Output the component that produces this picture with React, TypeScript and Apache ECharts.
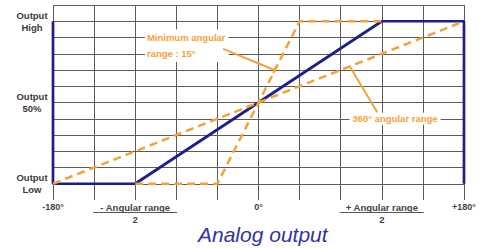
import React, { useEffect, useRef } from "react";
import * as echarts from "echarts";

// Axis definitions (degrees / output percent)
const xTicks = [-180, 0, 180];
const xTickLabels = ["-180°", "0°", "+180°"];
const yLevels = [0, 50, 100];
const yLevelLabels = ["Output\nLow", "Output\n50%", "Output\nHigh"];

// Series data: [angle, output %]
const analogOutput: [number, number][] = [
  [-180, 100],
  [-180, 0],
  [-108, 0],
  [108, 100],
  [180, 100],
  [180, 0],
];
const fullRange360: [number, number][] = [
  [-180, 0],
  [180, 100],
];
const minRange15: [number, number][] = [
  [-108, 0],
  [-36, 0],
  [36, 100],
  [108, 100],
];

// Annotation anchors (data coords)
const halfRangeTicks = [-108, 108];
const halfRangeLabels = ["- Angular range", "+ Angular range"];

const ORANGE = "#f4a236";
const NAVY = "#1d1d8c";
const GRID = "#5c5c5c";
const FONT = "Liberation Sans";

export default function App() {
  const ref = useRef<HTMLDivElement>(null);

  useEffect(() => {
    if (!ref.current) return;
    const chart = echarts.init(ref.current, undefined, { renderer: "svg" });
    chart.setOption({
      animation: false,
      title: {
        text: "Analog output",
        left: 198,
        top: 224,
        padding: 0,
        textStyle: {
          fontFamily: FONT,
          fontStyle: "italic",
          fontWeight: "normal",
          fontSize: 21,
          color: "#3333a6",
        },
      },
      grid: { left: 53, right: 20, top: 5, bottom: 48, containLabel: false },
      xAxis: {
        type: "value",
        min: -180,
        max: 180,
        interval: 36,
        axisLine: { show: false, onZero: false },
        axisTick: { show: false },
        splitLine: { show: true, lineStyle: { color: GRID, width: 1 } },
        axisLabel: {
          margin: 2,
          fontFamily: FONT,
          fontWeight: "bold",
          fontSize: 9,
          color: "#444",
          showMinLabel: true,
          showMaxLabel: true,
          formatter: (v: number) => {
            const i = xTicks.indexOf(v);
            return i >= 0 ? xTickLabels[i] : "";
          },
        },
      },
      yAxis: {
        type: "value",
        min: -10,
        max: 110,
        interval: 10,
        axisLine: { show: false },
        axisTick: { show: false },
        splitLine: {
          show: true,
          showMinLine: false,
          lineStyle: { color: GRID, width: 1 },
        },
        axisLabel: {
          margin: 21,
          align: "center",
          fontFamily: FONT,
          fontWeight: "bold",
          fontSize: 9.5,
          lineHeight: 12,
          color: "#3a3a3a",
          formatter: (v: number) => {
            const i = yLevels.indexOf(v);
            return i >= 0 ? yLevelLabels[i] : "";
          },
        },
      },
      series: [
        {
          type: "line",
          data: analogOutput,
          showSymbol: false,
          lineStyle: { color: NAVY, width: 2.7 },
          z: 3,
        },
        {
          type: "line",
          data: fullRange360,
          showSymbol: false,
          lineStyle: { color: ORANGE, width: 2.5, type: [8, 5] },
          z: 4,
        },
        {
          type: "line",
          data: minRange15,
          showSymbol: false,
          lineStyle: { color: ORANGE, width: 2.5, type: [8, 5] },
          z: 4,
        },
      ],
    });

    const px = (x: number, y: number) =>
      chart.convertToPixel({ gridIndex: 0 }, [x, y]) as number[];

    const graphics: any[] = [];
    const bottom = px(0, -10)[1];

    // Half-range labels under the axis
    halfRangeTicks.forEach((t, i) => {
      const cx = px(t, 0)[0];
      graphics.push({
        type: "text",
        x: cx,
        y: bottom + 7,
        style: {
          text: halfRangeLabels[i],
          align: "center",
          verticalAlign: "middle",
          fontFamily: FONT,
          fontWeight: "bold",
          fontSize: 9.5,
          fill: "#444",
        },
      });
      graphics.push({
        type: "line",
        shape: { x1: cx - 42, y1: bottom + 12.5, x2: cx + 42, y2: bottom + 12.5 },
        style: { stroke: "#555", lineWidth: 1 },
      });
      graphics.push({
        type: "text",
        x: cx,
        y: bottom + 19,
        style: {
          text: "2",
          align: "center",
          verticalAlign: "middle",
          fontFamily: FONT,
          fontWeight: "bold",
          fontSize: 9.5,
          fill: "#444",
        },
      });
    });

    // Minimum angular range annotation
    const rowH = px(0, 80)[1] - px(0, 90)[1];
    const minTxt = px(-99.5, 85);
    graphics.push({
      type: "text",
      x: minTxt[0],
      y: minTxt[1],
      z: 10,
      style: {
        text: "Minimum angular\nrange : 15°",
        align: "left",
        verticalAlign: "middle",
        lineHeight: rowH,
        fontFamily: FONT,
        fontWeight: "bold",
        fontSize: 9.5,
        fill: ORANGE,
        backgroundColor: "#fff",
        padding: [0, 3, 0, 2],
      },
    });
    const a1 = px(-31, 83);
    const a2 = px(14, 70);
    graphics.push({
      type: "line",
      z: 10,
      shape: { x1: a1[0], y1: a1[1], x2: a2[0], y2: a2[1] },
      style: { stroke: ORANGE, lineWidth: 2 },
    });
    {
      const dx = a2[0] - a1[0];
      const dy = a2[1] - a1[1];
      const len = Math.hypot(dx, dy);
      const nx = -dy / len;
      const ny = dx / len;
      graphics.push({
        type: "line",
        z: 10,
        shape: {
          x1: a2[0] - nx * 3.5,
          y1: a2[1] - ny * 3.5,
          x2: a2[0] + nx * 3.5,
          y2: a2[1] + ny * 3.5,
        },
        style: { stroke: ORANGE, lineWidth: 2 },
      });
    }

    // 360° angular range annotation
    const t360 = px(119.6, 40);
    graphics.push({
      type: "text",
      x: t360[0],
      y: t360[1],
      z: 10,
      style: {
        text: "360° angular range",
        align: "center",
        verticalAlign: "middle",
        fontFamily: FONT,
        fontWeight: "bold",
        fontSize: 9.5,
        fill: ORANGE,
        backgroundColor: "#fff",
        padding: [1, 3, 1, 3],
      },
    });
    const b1 = px(104, 44);
    const b2 = px(80, 72.2);
    graphics.push({
      type: "line",
      z: 10,
      shape: { x1: b1[0], y1: b1[1], x2: b2[0], y2: b2[1] },
      style: { stroke: ORANGE, lineWidth: 2 },
    });

    chart.setOption({ graphic: graphics });

    return () => chart.dispose();
  }, []);

  return (
    <div
      ref={ref}
      style={{ position: "fixed", left: 0, top: 0, width: 484, height: 248, background: "#fff" }}
    />
  );
}
